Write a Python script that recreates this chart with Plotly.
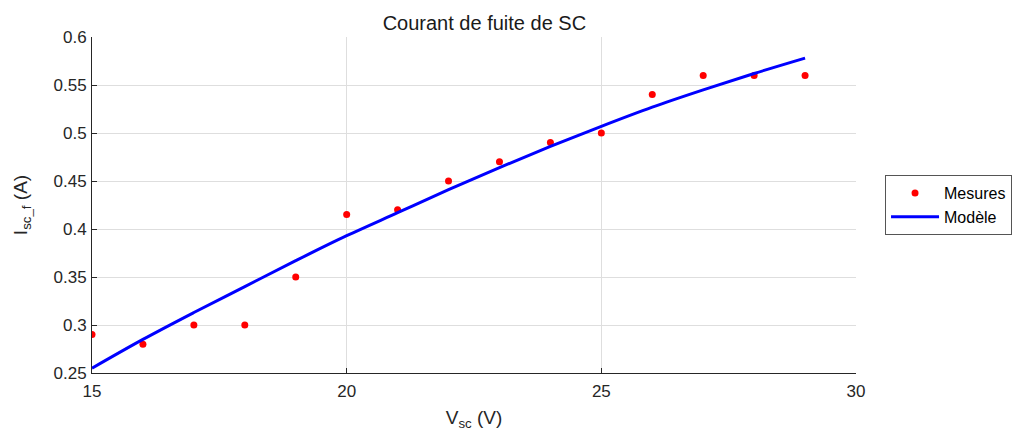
import plotly.graph_objects as go

v_mes = [15, 16, 17, 18, 19, 20, 21, 22, 23, 24, 25, 26, 27, 28, 29]
i_mes = [0.29, 0.28, 0.30, 0.30, 0.35, 0.415, 0.42, 0.45, 0.47, 0.49, 0.50, 0.54, 0.56, 0.56, 0.56]

v_mod = [15, 16, 17, 18, 19, 20, 21, 22, 23, 24, 25, 26, 27, 28, 29]
i_mod = [0.255, 0.285, 0.313, 0.340, 0.367, 0.393, 0.417, 0.441, 0.464, 0.486, 0.507, 0.527, 0.545, 0.562, 0.578]

x_ticks = [15, 20, 25, 30]
y_ticks = [0.25, 0.3, 0.35, 0.4, 0.45, 0.5, 0.55, 0.6]
y_labels = ["0.25", "0.3", "0.35", "0.4", "0.45", "0.5", "0.55", "0.6"]

font = "Liberation Sans, Arial, sans-serif"

fig = go.Figure()
fig.add_trace(go.Scatter(x=v_mes, y=i_mes, mode="markers", name="Mesures",
                         marker=dict(color="#ff0000", size=7)))
fig.add_trace(go.Scatter(x=v_mod, y=i_mod, mode="lines", name="Modèle",
                         line=dict(color="#0000ff", width=3, shape="spline")))

fig.update_layout(
    width=1019, height=431,
    paper_bgcolor="white", plot_bgcolor="white",
    margin=dict(l=84, r=171, t=29, b=66),
    font=dict(family=font, size=17, color="#262626"),
    title=dict(text="Courant de fuite de SC", x=0.4675, xanchor="center",
               y=0.965, yanchor="middle", font=dict(size=20, color="#1a1a1a")),
    showlegend=True,
    legend=dict(x=1.038, y=0.5, xanchor="left", yanchor="middle",
                bordercolor="#555555", borderwidth=1, bgcolor="white",
                itemwidth=48,
                font=dict(size=16, color="#000000"), tracegroupgap=0),
    xaxis=dict(range=[15, 30], tickvals=x_ticks, ticktext=[str(t) for t in x_ticks],
               showgrid=True, gridcolor="#dedede", gridwidth=1,
               showline=True, linecolor="#262626", linewidth=1,
               ticks="inside", ticklen=5, tickcolor="#262626",
               zeroline=False, mirror=False, ticklabelstandoff=3,
               title=dict(text="V<sub>sc</sub> (V)", font=dict(size=19), standoff=10),
               tickfont=dict(size=17)),
    yaxis=dict(range=[0.25, 0.6], tickvals=y_ticks, ticktext=y_labels,
               showgrid=True, gridcolor="#dedede", gridwidth=1,
               showline=True, linecolor="#262626", linewidth=1,
               ticks="inside", ticklen=5, tickcolor="#262626",
               zeroline=False, mirror=False, ticklabelstandoff=1,
               title=dict(text="I<sub>sc_f</sub> (A)", font=dict(size=19), standoff=20),
               tickfont=dict(size=17)),
)

fig.write_html("out.html")
